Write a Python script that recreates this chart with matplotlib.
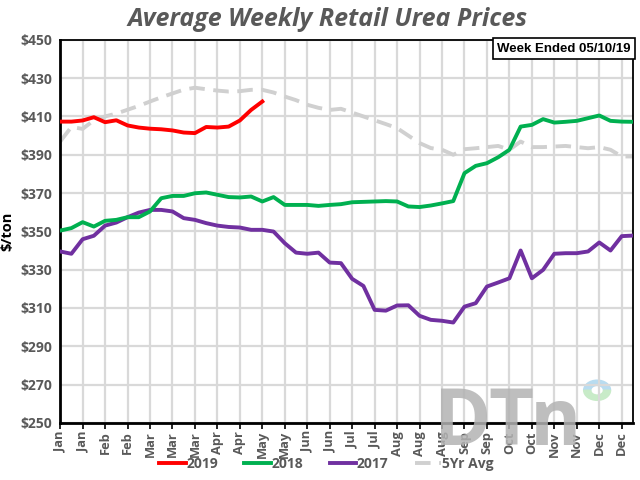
import matplotlib
matplotlib.use("Agg")
import matplotlib.pyplot as plt
from matplotlib.patches import Wedge

plt.rcParams['font.family'] = ['Open Sans', 'DejaVu Sans']

# weekly prices, $/ton (week 0 = first week of Jan)
prices_2019 = [407.3, 407.3, 407.9, 409.6, 407.0, 408.0, 405.3, 404.2, 403.6, 403.3,
               402.7, 401.6, 401.3, 404.5, 404.2, 404.7, 407.9, 413.4, 417.8]

prices_2018 = [350.4, 351.7, 354.8, 352.5, 355.5, 356.0, 357.4, 357.4, 360.4, 367.3,
               368.5, 368.5, 369.9, 370.3, 369.1, 367.9, 367.7, 368.2, 365.6, 367.9,
               363.8, 363.8, 363.8, 363.3, 363.8, 364.2, 365.2, 365.4, 365.6, 365.8,
               365.6, 363.0, 362.7, 363.5, 364.6, 365.8, 380.4, 384.2, 385.6, 388.7,
               392.6, 404.7, 405.6, 408.6, 406.8, 407.2, 407.7, 409.1, 410.5, 407.7,
               407.3, 407.2]

prices_2017 = [339.5, 338.3, 345.9, 347.7, 353.0, 354.6, 357.4, 359.8, 361.2, 361.2,
               360.4, 356.9, 356.0, 354.3, 353.0, 352.3, 352.0, 350.8, 350.8, 349.9,
               343.8, 338.9, 338.3, 338.9, 333.7, 333.4, 325.2, 321.5, 309.0, 308.6,
               311.3, 311.4, 305.9, 303.8, 303.3, 302.4, 310.7, 312.5, 321.2, 323.3,
               325.5, 340.0, 325.5, 329.9, 338.3, 338.6, 338.6, 339.5, 344.2, 340.0,
               347.5, 347.8]

avg_5yr = [396.9, 404.5, 403.5, 408.0, 410.0, 411.5, 413.5, 415.5, 417.8, 420.0,
           422.0, 424.0, 425.0, 424.2, 423.5, 423.0, 423.2, 423.9, 423.9, 422.5,
           420.4, 418.5, 416.1, 414.5, 413.4, 414.0, 412.0, 410.0, 408.0, 406.0,
           403.9, 400.0, 396.1, 393.5, 392.6, 390.0, 392.9, 393.4, 394.0, 394.6,
           392.6, 396.9, 394.0, 394.0, 394.3, 394.6, 394.0, 393.4, 394.0, 392.6,
           389.1, 389.1]

month_labels = ['Jan', 'Jan', 'Feb', 'Feb', 'Mar', 'Mar', 'Mar', 'Apr', 'Apr', 'May',
                'May', 'Jun', 'Jun', 'Jul', 'Jul', 'Aug', 'Aug', 'Aug', 'Sep', 'Sep',
                'Oct', 'Oct', 'Nov', 'Nov', 'Dec', 'Dec']

gray_txt = '#595959'

fig = plt.figure(figsize=(6.4, 4.8), dpi=100)
ax = fig.add_axes([0.094, 0.119, 0.895, 0.798])

# watermark logo
fig.text(0.678, 0.072, 'DTn', fontsize=56, fontweight='bold', color='#b3b3b3',
         alpha=0.85, zorder=0)
ax.add_patch(Wedge((0.933, 0.187), 0.021, 0, 180, width=0.011, color='#b8dcf0',
                   transform=fig.transFigure, zorder=0))
ax.add_patch(Wedge((0.933, 0.187), 0.021, 180, 360, width=0.011, color='#c8ebc8',
                   transform=fig.transFigure, zorder=0))

ax.set_facecolor('none')
ax.plot(range(len(avg_5yr)), avg_5yr, color='#d0d0d0', lw=2.8, ls=(0, (4, 2.2)),
        label='5Yr Avg', zorder=2)
ax.plot(range(len(prices_2017)), prices_2017, color='#7030a0', lw=2.8, label='2017', zorder=3)
ax.plot(range(len(prices_2018)), prices_2018, color='#00b050', lw=2.8, label='2018', zorder=3)
ax.plot(range(len(prices_2019)), prices_2019, color='#ff0000', lw=2.8, label='2019', zorder=4)

ax.set_xlim(0, 51)
ax.set_ylim(250, 450)
ax.set_yticks(range(250, 451, 20))
ax.set_yticklabels(['$%d' % v for v in range(250, 451, 20)])
ax.set_xticks(range(0, 51, 2))
ax.set_xticklabels(month_labels, rotation=90)
ax.grid(True, color='#d9d9d9', lw=1.6, zorder=1)
ax.set_axisbelow(True)

ax.tick_params(axis='y', length=0, pad=6, labelsize=10, labelcolor=gray_txt)
ax.tick_params(axis='x', length=4, width=1.2, direction='out', pad=2,
               labelsize=9.3, labelcolor=gray_txt)
for lbl in ax.get_xticklabels() + ax.get_yticklabels():
    lbl.set_fontweight('bold')

for side in ['left', 'bottom']:
    ax.spines[side].set_linewidth(2)
for side in ['top', 'right']:
    ax.spines[side].set_linewidth(1.3)

ax.set_ylabel('$/ton', fontsize=10.5, fontweight='bold', labelpad=4)

fig.text(0.512, 0.96, 'Average Weekly Retail Urea Prices', ha='center', va='center',
         fontsize=18, fontweight='bold', fontstyle='italic', color=gray_txt)

ax.text(0.996, 0.993, 'Week Ended 05/10/19', transform=ax.transAxes, ha='right', va='top',
        fontsize=9.5, fontweight='bold', family=['Liberation Sans', 'DejaVu Sans'],
        bbox=dict(boxstyle='square,pad=0.35', fc='white', ec='black', lw=1.2), zorder=5)

handles, labels = ax.get_legend_handles_labels()
order = [3, 2, 1, 0]
leg = fig.legend([handles[i] for i in order], [labels[i] for i in order],
                 loc='center', bbox_to_anchor=(0.51, 0.033), ncol=4, frameon=False,
                 handlelength=1.9, handletextpad=0.05, columnspacing=1.9,
                 prop={'weight': 'bold', 'size': 10})
for t in leg.get_texts():
    t.set_color(gray_txt)

fig.savefig('out.png', dpi=100)
